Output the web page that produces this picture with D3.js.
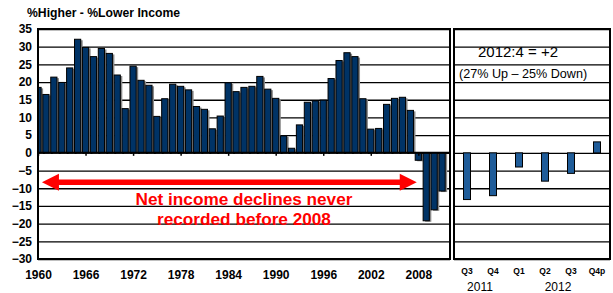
<!DOCTYPE html>
<html>
<head>
<meta charset="utf-8">
<script src="https://cdn.jsdelivr.net/npm/d3@7"></script>
<style>
  body { margin: 0; background: #fff; }
  svg { display: block; font-family: Arial, "Liberation Sans", sans-serif; }
</style>
</head>
<body>
<script>
// annual series
var years = d3.range(1960, 2012);
var annualValues = [18.5, 16.5, 21.4, 19.9, 24.0, 32.1, 29.8, 27.2, 29.5, 28.1,
  22.0, 12.5, 24.5, 20.5, 19.1, 10.3, 15.3, 19.4, 18.8, 17.8,
  13.1, 12.3, 6.8, 10.4, 19.8, 17.3, 18.5, 18.8, 21.6, 18.0,
  15.4, 4.8, 1.3, 7.9, 14.3, 14.7, 14.9, 21.0, 26.1, 28.3,
  27.2, 15.3, 6.7, 6.9, 13.7, 15.4, 15.7, 12.0, -2.1, -19.2,
  -16.1, -10.8];
var yearTicks = [1960, 1966, 1972, 1978, 1984, 1990, 1996, 2002, 2008];
var yTicks = d3.range(-30, 36, 5);

// quarterly series
var quarters = ["Q3", "Q4", "Q1", "Q2", "Q3 ", "Q4p"];
var quarterValues = [-13.2, -12.1, -4.0, -8.0, -5.8, 3.1];
var quarterYears = [{ label: "2011", from: "Q3", to: "Q4" }, { label: "2012", from: "Q1", to: "Q4p" }];

var width = 613, height = 293;
var plotTop = 29, plotBottom = 259;
var leftX0 = 38, leftX1 = 450, rightX0 = 454, rightX1 = 610;

var svg = d3.select("body").append("svg")
  .attr("width", width)
  .attr("height", height);

var y = d3.scaleLinear().domain([-30, 35]).range([plotBottom, plotTop]);
var x = d3.scaleLinear().domain([1960, 2012]).range([leftX0, leftX1]);
var xq = d3.scaleBand().domain(quarters).range([rightX0, rightX1]);

svg.append("clipPath").attr("id", "clipL")
  .append("rect").attr("x", leftX0).attr("y", plotTop).attr("width", leftX1 - leftX0).attr("height", plotBottom - plotTop);

// title
svg.append("text")
  .attr("x", 27).attr("y", 17)
  .attr("font-size", 12.2).attr("font-weight", "bold")
  .text("%Higher - %Lower Income");

// gridlines, both panels
function grid(x0, x1) {
  svg.append("g")
    .attr("transform", "translate(" + x0 + ",0)")
    .call(d3.axisLeft(y).tickValues(yTicks).tickSize(-(x1 - x0)).tickFormat(""))
    .call(function (g) {
      g.select(".domain").remove();
      g.selectAll("line").attr("stroke", "#000").attr("stroke-width", 1.3);
    });
}
grid(leftX0, leftX1);
grid(rightX0, rightX1);

// y labels
svg.append("g")
  .attr("transform", "translate(" + leftX0 + ",0)")
  .call(d3.axisLeft(y).tickValues(yTicks).tickSize(0).tickPadding(6))
  .call(function (g) {
    g.select(".domain").remove();
    g.selectAll("text").attr("font-size", 12).attr("font-weight", "bold")
      .attr("font-family", "Arial, 'Liberation Sans', sans-serif").attr("fill", "#000");
  });

// annual bars
var bw = 6.2;
var bars = svg.append("g").attr("clip-path", "url(#clipL)");
bars.selectAll(".shadow")
  .data(annualValues)
  .enter().append("rect")
  .attr("class", "shadow")
  .attr("x", function (d, i) { return x(years[i]) - bw / 2 + 2; })
  .attr("y", function (d) { return Math.min(y(d), y(0)) + 1; })
  .attr("width", bw)
  .attr("height", function (d) { return Math.abs(y(d) - y(0)); })
  .attr("fill", "#8a8a8a");
bars.selectAll(".bar")
  .data(annualValues)
  .enter().append("rect")
  .attr("class", "bar")
  .attr("x", function (d, i) { return x(years[i]) - bw / 2; })
  .attr("y", function (d) { return Math.min(y(d), y(0)); })
  .attr("width", bw)
  .attr("height", function (d) { return Math.abs(y(d) - y(0)); })
  .attr("fill", "#003366")
  .attr("stroke", "#000")
  .attr("stroke-width", 1);

// zero axis with year ticks
svg.append("g")
  .attr("transform", "translate(0," + y(0) + ")")
  .call(d3.axisBottom(x).tickValues(yearTicks).tickSize(3).tickFormat(""))
  .call(function (g) {
    g.select(".domain").remove();
    g.selectAll("line").attr("stroke", "#000").attr("stroke-width", 1.5);
  });
svg.append("line")
  .attr("x1", leftX0).attr("x2", leftX1)
  .attr("y1", y(0)).attr("y2", y(0))
  .attr("stroke", "#000").attr("stroke-width", 2);

// year labels
svg.append("g")
  .attr("transform", "translate(0," + plotBottom + ")")
  .call(d3.axisBottom(x).tickValues(yearTicks).tickSize(0).tickPadding(11).tickFormat(d3.format("d")))
  .call(function (g) {
    g.select(".domain").remove();
    g.selectAll("text").attr("font-size", 12).attr("font-weight", "bold")
      .attr("font-family", "Arial, 'Liberation Sans', sans-serif").attr("fill", "#000");
  });

// quarterly bars
var qw = 7;
svg.selectAll(".qbar")
  .data(quarterValues)
  .enter().append("rect")
  .attr("class", "qbar")
  .attr("x", function (d, i) { return xq(quarters[i]) + xq.bandwidth() / 2 - qw / 2; })
  .attr("y", function (d) { return Math.min(y(d), y(0)); })
  .attr("width", qw)
  .attr("height", function (d) { return Math.abs(y(d) - y(0)); })
  .attr("fill", "#1f5c99")
  .attr("stroke", "#000")
  .attr("stroke-width", 1);

// quarter labels
svg.append("g")
  .attr("transform", "translate(0," + plotBottom + ")")
  .call(d3.axisBottom(xq).tickSize(0).tickPadding(9).tickFormat(function (d) { return d.trim(); }))
  .call(function (g) {
    g.select(".domain").remove();
    g.selectAll("text").attr("font-size", 8.5).attr("font-weight", "bold")
      .attr("font-family", "Arial, 'Liberation Sans', sans-serif").attr("fill", "#000");
  });
svg.selectAll(".qyear")
  .data(quarterYears)
  .enter().append("text")
  .attr("class", "qyear")
  .attr("x", function (d) { return (xq(d.from) + xq(d.to) + xq.bandwidth()) / 2; })
  .attr("y", 291)
  .attr("text-anchor", "middle")
  .attr("font-size", 12)
  .text(function (d) { return d.label; });

// frames
svg.append("rect")
  .attr("x", leftX0).attr("y", plotTop).attr("width", leftX1 - leftX0).attr("height", plotBottom - plotTop)
  .attr("fill", "none").attr("stroke", "#000").attr("stroke-width", 2);
svg.append("rect")
  .attr("x", rightX0).attr("y", plotTop).attr("width", rightX1 - rightX0).attr("height", plotBottom - plotTop)
  .attr("fill", "none").attr("stroke", "#000").attr("stroke-width", 2);

// right panel note
svg.append("text")
  .attr("x", 518).attr("y", 57)
  .attr("text-anchor", "middle").attr("font-size", 15)
  .text("2012:4 = +2");
svg.append("text")
  .attr("x", 459).attr("y", 78)
  .attr("font-size", 12.6)
  .text("(27% Up \u2013 25% Down)");

// red double arrow + note
var ay = y(-8.3);
var a0 = x(1960.5), a1 = x(2007.8), ah = 17, hw = 8.5;
svg.append("line")
  .attr("x1", a0 + ah - 1).attr("x2", a1 - ah + 1)
  .attr("y1", ay).attr("y2", ay)
  .attr("stroke", "#ff0000").attr("stroke-width", 5.5);
svg.append("path")
  .attr("d", "M" + a0 + "," + ay + "L" + (a0 + ah) + "," + (ay - hw) + "L" + (a0 + ah) + "," + (ay + hw) + "Z")
  .attr("fill", "#ff0000");
svg.append("path")
  .attr("d", "M" + a1 + "," + ay + "L" + (a1 - ah) + "," + (ay - hw) + "L" + (a1 - ah) + "," + (ay + hw) + "Z")
  .attr("fill", "#ff0000");
svg.append("text")
  .attr("x", 244).attr("y", 205)
  .attr("text-anchor", "middle").attr("font-size", 17.2).attr("font-weight", "bold")
  .attr("fill", "#ff0000")
  .text("Net income declines never");
svg.append("text")
  .attr("x", 244).attr("y", 225)
  .attr("text-anchor", "middle").attr("font-size", 17.2).attr("font-weight", "bold")
  .attr("fill", "#ff0000")
  .text("recorded before 2008");
</script>
</body>
</html>
